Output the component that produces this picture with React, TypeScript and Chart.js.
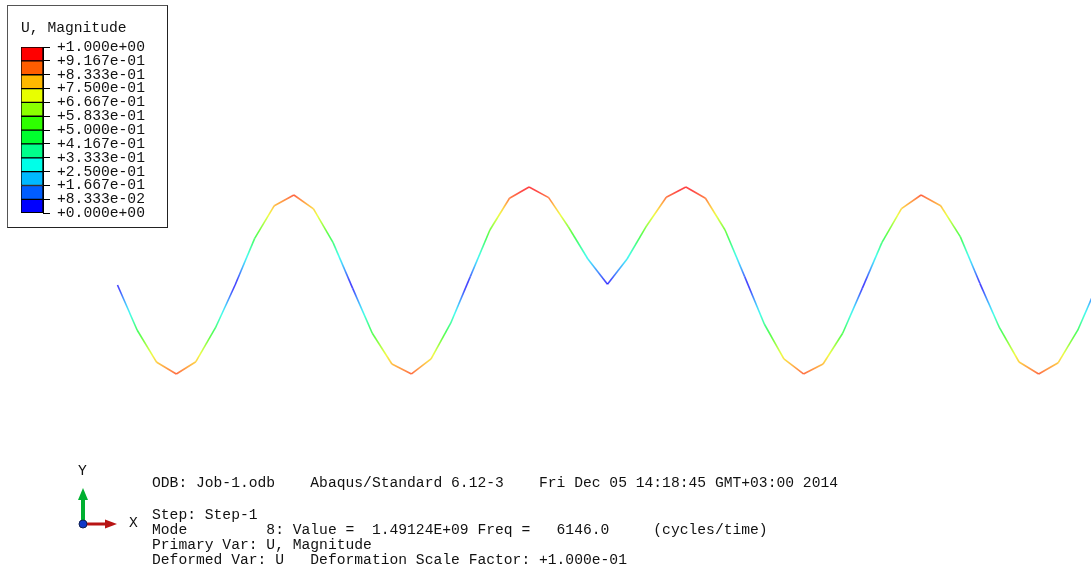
import React, { useEffect, useRef } from "react";
import { Chart, registerables } from "chart.js";

Chart.register(...registerables);

const nodeIndex = [
  0, 1, 2, 3, 4, 5, 6, 7, 8, 9, 10, 11, 12, 13, 14, 15, 16, 17, 18, 19, 20, 21, 22, 23, 24, 25,
  26, 27, 28, 29, 30, 31, 32, 33, 34, 35, 36, 37, 38, 39, 40, 41, 42, 43, 44, 45, 46, 47, 48, 49, 50,
];
// signed deflection of the deformed line, normalised so the largest magnitude is 1
const deflection = [
  0.0, -0.459, -0.789, -0.908, -0.783, -0.436, 0.0, 0.476, 0.809, 0.918, 0.776, 0.432, -0.034,
  -0.493, -0.806, -0.908, -0.755, -0.39, 0.085, 0.561, 0.885, 1.0, 0.891, 0.594, 0.265, 0.007,
  0.265, 0.605, 0.895, 1.0, 0.885, 0.561, 0.085, -0.398, -0.755, -0.908, -0.806, -0.493, -0.034,
  0.432, 0.779, 0.918, 0.809, 0.493, 0.017, -0.436, -0.786, -0.908, -0.793, -0.459, 0.0,
];

const legendTitle = "U, Magnitude";
const legendLevels = [
  0, 0.08333, 0.1667, 0.25, 0.3333, 0.4167, 0.5, 0.5833, 0.6667, 0.75, 0.8333, 0.9167, 1,
];
const legendLabels = [
  "+0.000e+00", "+8.333e-02", "+1.667e-01", "+2.500e-01", "+3.333e-01", "+4.167e-01", "+5.000e-01",
  "+5.833e-01", "+6.667e-01", "+7.500e-01", "+8.333e-01", "+9.167e-01", "+1.000e+00",
];
const bandColors = [
  "#0000ff", "#005dff", "#00b9ff", "#00ffe8", "#00ff8b", "#00ff2e",
  "#2eff00", "#8bff00", "#e8ff00", "#ffb900", "#ff5d00", "#ff0000",
];

const infoTop = "ODB: Job-1.odb    Abaqus/Standard 6.12-3    Fri Dec 05 14:18:45 GMT+03:00 2014";
const infoLines = [
  "Step: Step-1",
  "Mode         8: Value =  1.49124E+09 Freq =   6146.0     (cycles/time)",
  "Primary Var: U, Magnitude",
  "Deformed Var: U   Deformation Scale Factor: +1.000e-01",
];

const FONT = '"Liberation Mono", "DejaVu Sans Mono", monospace';
const FONT_SIZE = 14.67;

function hexToRgb(h: string) {
  return [1, 3, 5].map((i) => parseInt(h.slice(i, i + 2), 16));
}

function colorFor(mag: number) {
  const n = bandColors.length;
  const t = Math.min(n - 1, Math.max(0, Math.min(1, mag) * n - 0.5));
  const i = Math.min(n - 2, Math.floor(t));
  const a = hexToRgb(bandColors[i]);
  const b = hexToRgb(bandColors[i + 1]);
  const f = t - i;
  const c = a.map((v, k) => Math.round(v + (b[k] - v) * f));
  return `rgba(${c[0]},${c[1]},${c[2]},0.72)`;
}

function segmentGradient(ctx: any) {
  const { p0, p1, chart } = ctx;
  const g = chart.ctx.createLinearGradient(p0.x, p0.y, p1.x, p1.y);
  const u0 = p0.parsed.y;
  const u1 = p1.parsed.y;
  for (let s = 0; s <= 10; s++) {
    const t = s / 10;
    g.addColorStop(t, colorFor(Math.abs(u0 + (u1 - u0) * t)));
  }
  return g;
}

const textStyle: React.CSSProperties = {
  position: "absolute",
  margin: 0,
  font: `${FONT_SIZE}px ${FONT}`,
  color: "#111",
  whiteSpace: "pre",
  lineHeight: "15px",
};

export default function App() {
  const mainRef = useRef<HTMLCanvasElement>(null);
  const legendRef = useRef<HTMLCanvasElement>(null);

  useEffect(() => {
    const main = new Chart(mainRef.current!, {
      type: "line",
      data: {
        datasets: [
          {
            data: nodeIndex.map((x, i) => ({ x, y: deflection[i] })),
            borderWidth: 1.6,
            borderColor: "#888",
            pointRadius: 0,
            tension: 0,
            segment: { borderColor: segmentGradient },
          } as any,
        ],
      },
      options: {
        animation: false,
        responsive: false,
        layout: { padding: 0 },
        plugins: { legend: { display: false }, tooltip: { enabled: false } },
        events: [],
        scales: {
          x: { type: "linear", display: false, min: -5.995, max: 49.67 },
          y: { type: "linear", display: false, min: -2.939, max: 2.908 },
        },
      },
    });

    const legend = new Chart(legendRef.current!, {
      type: "bar",
      data: {
        labels: [""],
        datasets: bandColors.map((c, i) => ({
          data: [[legendLevels[i], legendLevels[i + 1]]],
          backgroundColor: c,
          borderColor: "#000",
          borderWidth: 1,
          borderSkipped: false,
          barPercentage: 1,
          categoryPercentage: 1,
          grouped: false,
        })) as any,
      },
      options: {
        animation: false,
        responsive: false,
        events: [],
        layout: { autoPadding: false, padding: { left: 13, right: 0, top: 0, bottom: 14 } },
        plugins: {
          legend: { display: false },
          tooltip: { enabled: false },
          title: {
            display: true,
            text: legendTitle,
            align: "start",
            color: "#111",
            font: { family: FONT, size: FONT_SIZE, weight: "normal", lineHeight: 1.2 },
            padding: { top: 13, bottom: 10.4 },
          },
        },
        scales: {
          x: { display: false },
          y: {
            position: "right",
            min: 0,
            max: 1,
            afterBuildTicks: (axis: any) => {
              axis.ticks = legendLevels.map((value) => ({ value }));
            },
            afterFit: (axis: any) => {
              axis.width = 124;
            },
            ticks: {
              autoSkip: false,
              padding: 7,
              color: "#111",
              font: { family: FONT, size: FONT_SIZE },
              callback: (_v: any, i: number) => legendLabels[i],
            },
            grid: { drawOnChartArea: false, drawTicks: true, tickLength: 7, color: "#000" },
            border: { display: true, color: "#000" },
          },
        },
      },
    });

    return () => {
      main.destroy();
      legend.destroy();
    };
  }, []);

  return (
    <div
      style={{
        position: "absolute",
        left: 0,
        top: 0,
        width: 1091,
        height: 573,
        overflow: "hidden",
        background: "#fff",
      }}
    >
      <canvas ref={mainRef} width={1091} height={573} style={{ position: "absolute", left: 0, top: 0 }} />
      <div
        style={{
          position: "absolute",
          left: 7,
          top: 5,
          width: 159,
          height: 221,
          overflow: "hidden",
          borderStyle: "solid",
          borderWidth: 1,
          borderColor: "#555 #222 #222 #555",
          background: "#fff",
        }}
      >
        <canvas ref={legendRef} width={159} height={223} style={{ display: "block" }} />
      </div>

      <svg width={60} height={50} style={{ position: "absolute", left: 70, top: 485 }}>
        <rect x={11} y={13} width={4} height={26} fill="#00b030" />
        <polygon points="13,3 8,15 18,15" fill="#00b030" />
        <rect x={14} y={37.5} width={22} height={3} fill="#b81414" />
        <polygon points="47,39 35,34.5 35,43.5" fill="#b81414" />
        <circle cx={13} cy={39} r={4} fill="#1038c8" stroke="#102050" strokeWidth={1} />
      </svg>
      <span style={{ ...textStyle, left: 78, top: 464 }}>Y</span>
      <span style={{ ...textStyle, left: 129, top: 516 }}>X</span>

      <span style={{ ...textStyle, left: 152, top: 476 }}>{infoTop}</span>
      {infoLines.map((line, i) => (
        <span key={i} style={{ ...textStyle, left: 152, top: 508 + i * 15 }}>
          {line}
        </span>
      ))}
    </div>
  );
}
